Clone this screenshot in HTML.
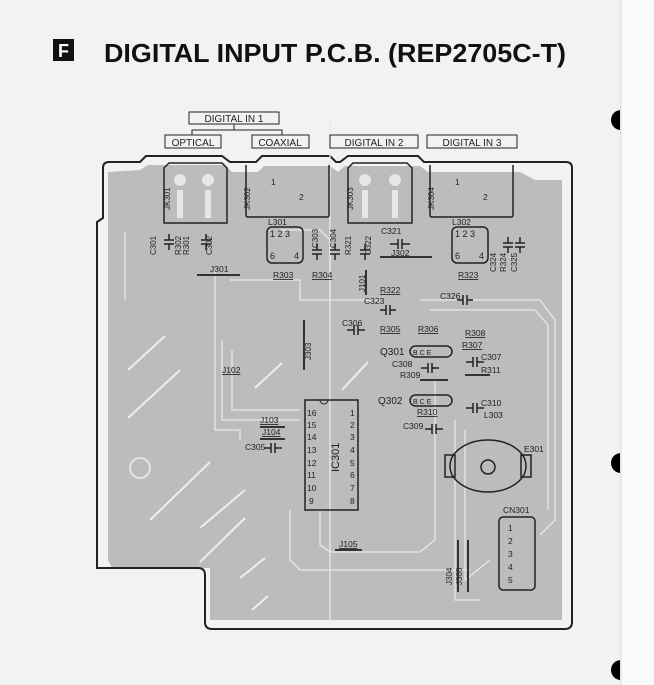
<!DOCTYPE html>
<html><head><meta charset="utf-8"><style>
html,body{margin:0;padding:0;background:#f4f4f2;}
svg{display:block;font-family:"Liberation Sans",Arial,sans-serif;}
</style></head><body>
<svg width="654" height="685" viewBox="0 0 654 685" xmlns="http://www.w3.org/2000/svg">
<rect x="0" y="0" width="654" height="685" fill="#f2f2f0"/>
<circle cx="621" cy="120" r="10" fill="#000"/>
<circle cx="621" cy="463" r="10" fill="#000"/>
<circle cx="621" cy="670" r="10" fill="#000"/>
<rect x="621" y="0" width="33" height="685" fill="#fafafa"/>
<rect x="620" y="0" width="1.5" height="685" fill="#e2e2e2"/>
<!-- title -->
<rect x="53" y="39" width="21" height="22" fill="#111"/>
<text x="63.5" y="57" font-size="18" font-weight="bold" fill="#fff" text-anchor="middle">F</text>
<text x="104" y="62" font-size="26" font-weight="bold" fill="#111" textLength="462" lengthAdjust="spacingAndGlyphs">DIGITAL INPUT P.C.B. (REP2705C-T)</text>
<!-- board fill -->
<path d="M108 172 L140 170 L148 165 L225 165 L232 172 L258 172 L264 166 L330 166 L338 172 L345 166 L420 166 L428 172 L520 172 L535 180 L562 180 L562 620 L210 620 L210 568 L112 568 L108 560 Z" fill="#bcbcbc"/>
<!-- board outline -->
<path d="M97 222 L103 218 L103 168 Q103 162 109 162 L140 162 L146 156 L222 156 L230 162 L256 162 L262 156 L330 156 L336 162 L340 162 L348 156 L418 156 L424 162 L566 162 Q572 162 572 168 L572 622 Q572 629 565 629 L212 629 Q205 629 205 622 L205 575 Q205 568 198 568 L97 568 Z" fill="none" stroke="#222" stroke-width="2"/>
<!-- traces (light lines) -->
<g fill="none" stroke="#e8e8e8" stroke-width="1.3">
<path d="M125 232 L125 300"/>
<path d="M215 270 L215 430 L240 430 L240 440"/>
<path d="M230 280 L300 280 L300 300 L380 300"/>
<path d="M222 340 L222 420 L300 420"/>
<path d="M232 350 L232 410 L300 410"/>
<path d="M320 510 L320 545 L330 552 L420 552 L435 540 L435 380"/>
<path d="M290 510 L290 560 L300 570 L470 570"/>
<path d="M420 300 L540 300 L555 320 L555 520 L540 535"/>
<path d="M430 310 L535 310 L548 325 L548 510"/>
<path d="M455 420 L455 600 L480 600"/>
<path d="M465 430 L465 580 L490 560"/>
<path d="M330 120 L330 620"/>
<path d="M280 230 L320 230 L330 240 L330 300"/>
</g>
<g stroke="#eee" stroke-width="2">
<line x1="128" y1="370" x2="165" y2="336"/><line x1="128" y1="418" x2="180" y2="370"/>
<line x1="255" y1="388" x2="282" y2="363"/><line x1="342" y1="390" x2="368" y2="362"/>
<line x1="150" y1="520" x2="210" y2="462"/><line x1="200" y1="528" x2="245" y2="490"/>
<line x1="200" y1="562" x2="245" y2="518"/><line x1="240" y1="578" x2="265" y2="558"/>
<line x1="252" y1="610" x2="268" y2="596"/>
</g>
<circle cx="140" cy="468" r="10" fill="none" stroke="#eee" stroke-width="1.5"/>
<!-- label boxes -->
<g font-size="10" fill="#222" stroke="#222" stroke-width="1">
<rect x="189" y="112" width="90" height="12" fill="#f2f2f0"/>
<rect x="165" y="135" width="56" height="13" fill="#f2f2f0"/>
<rect x="252" y="135" width="57" height="13" fill="#f2f2f0"/>
<rect x="330" y="135" width="88" height="13" fill="#f2f2f0"/>
<rect x="427" y="135" width="90" height="13" fill="#f2f2f0"/>
<path d="M192 135 L192 130 L282 130 L282 135 M234 124 L234 130" fill="none"/>
</g>
<g font-size="10" fill="#222">
<text x="234" y="122" text-anchor="middle">DIGITAL IN 1</text>
<text x="193" y="146" text-anchor="middle">OPTICAL</text>
<text x="280" y="146" text-anchor="middle">COAXIAL</text>
<text x="374" y="146" text-anchor="middle">DIGITAL IN 2</text>
<text x="472" y="146" text-anchor="middle">DIGITAL IN 3</text>
</g>
<!-- jacks -->
<g fill="none" stroke="#222" stroke-width="1.5">
<path d="M164 168 L169 163 L222 163 L227 168 L227 223 L164 223 Z"/>
<path d="M348 168 L353 163 L407 163 L412 168 L412 223 L348 223 Z"/>
<path d="M246 165 L246 215 Q246 217 248 217 L327 217 Q329 217 329 215 L329 165"/>
<path d="M430 165 L430 215 Q430 217 432 217 L511 217 Q513 217 513 215 L513 165"/>
<rect x="267" y="227" width="36" height="36" rx="5"/>
<rect x="452" y="227" width="36" height="36" rx="5"/>
<rect x="305" y="400" width="53" height="110"/>
<ellipse cx="488" cy="466" rx="38" ry="26"/>
<rect x="445" y="455" width="10" height="22"/>
<rect x="521" y="455" width="10" height="22"/>
<circle cx="488" cy="467" r="7"/>
<rect x="499" y="517" width="36" height="73" rx="4"/>
<rect x="410" y="346" width="42" height="11" rx="5.5"/>
<rect x="410" y="395" width="42" height="11" rx="5.5"/>
</g>
<g fill="#e6e6e6">
<circle cx="180" cy="180" r="6"/><circle cx="208" cy="180" r="6"/>
<circle cx="365" cy="180" r="6"/><circle cx="395" cy="180" r="6"/>
<rect x="177" y="190" width="6" height="28"/><rect x="205" y="190" width="6" height="28"/>
<rect x="362" y="190" width="6" height="28"/><rect x="392" y="190" width="6" height="28"/>
</g>
<path d="M320 400 a4 4 0 0 0 8 0" fill="none" stroke="#222"/>
<!-- text labels -->
<g font-size="8.5" fill="#222">
<text x="271" y="185">1</text><text x="299" y="200">2</text>
<text x="455" y="185">1</text><text x="483" y="200">2</text>
<text x="270" y="237" font-size="9">1 2 3</text><text x="270" y="259" font-size="9">6</text><text x="294" y="259" font-size="9">4</text>
<text x="455" y="237" font-size="9">1 2 3</text><text x="455" y="259" font-size="9">6</text><text x="479" y="259" font-size="9">4</text>
<text x="268" y="225">L301</text><text x="452" y="225">L302</text>
<text x="210" y="272">J301</text><text x="391" y="256">J302</text>
<text x="273" y="278" text-decoration="underline">R303</text><text x="312" y="278" text-decoration="underline">R304</text>
<text x="458" y="278" text-decoration="underline">R323</text>
<text x="380" y="293" text-decoration="underline">R322</text>
<text x="364" y="304">C323</text><text x="440" y="299">C326</text>
<text x="342" y="326">C306</text>
<text x="380" y="332" text-decoration="underline">R305</text><text x="418" y="332" text-decoration="underline">R306</text>
<text x="465" y="336" text-decoration="underline">R308</text><text x="462" y="348" text-decoration="underline">R307</text>
<text x="380" y="355" font-size="10">Q301</text><text x="378" y="404" font-size="10">Q302</text>
<text x="413" y="355" font-size="7">B C E</text><text x="413" y="404" font-size="7">B C E</text>
<text x="392" y="367">C308</text><text x="400" y="378">R309</text>
<text x="481" y="360">C307</text><text x="481" y="373">R311</text>
<text x="481" y="406">C310</text><text x="484" y="418">L303</text>
<text x="417" y="415" text-decoration="underline">R310</text>
<text x="403" y="429">C309</text>
<text x="222" y="373" text-decoration="underline">J102</text>
<text x="260" y="423" text-decoration="underline">J103</text><text x="262" y="435" text-decoration="underline">J104</text>
<text x="245" y="450">C305</text>
<text x="339" y="547" text-decoration="underline">J105</text>
<text x="524" y="452">E301</text><text x="503" y="513">CN301</text>
<text x="381" y="234">C321</text>
</g>
<g font-size="8.5" fill="#222">
<text x="307" y="416">16</text><text x="307" y="428">15</text><text x="307" y="440">14</text><text x="307" y="453">13</text>
<text x="307" y="466">12</text><text x="307" y="478">11</text><text x="307" y="491">10</text><text x="309" y="504">9</text>
<text x="350" y="416">1</text><text x="350" y="428">2</text><text x="350" y="440">3</text><text x="350" y="453">4</text>
<text x="350" y="466">5</text><text x="350" y="478">6</text><text x="350" y="491">7</text><text x="350" y="504">8</text>
<text x="508" y="531">1</text><text x="508" y="544">2</text><text x="508" y="557">3</text><text x="508" y="570">4</text><text x="508" y="583">5</text>
<text font-size="11" transform="translate(339 472) rotate(-90)">IC301</text>
</g>
<g font-size="8" fill="#222">
<text transform="translate(170 210) rotate(-90)">JK301</text>
<text transform="translate(250 210) rotate(-90)">JK302</text>
<text transform="translate(353 210) rotate(-90)">JK303</text>
<text transform="translate(434 210) rotate(-90)">JK304</text>
<text transform="translate(156 255) rotate(-90)">C301</text>
<text transform="translate(181 255) rotate(-90)">R302</text>
<text transform="translate(189 255) rotate(-90)">R301</text>
<text transform="translate(212 255) rotate(-90)">C302</text>
<text transform="translate(318 248) rotate(-90)">C303</text>
<text transform="translate(336 248) rotate(-90)">C304</text>
<text transform="translate(351 255) rotate(-90)">R321</text>
<text transform="translate(371 255) rotate(-90)">C322</text>
<text transform="translate(496 272) rotate(-90)">C324</text>
<text transform="translate(506 272) rotate(-90)">R324</text>
<text transform="translate(517 272) rotate(-90)">C325</text>
<text transform="translate(365 292) rotate(-90)">J101</text>
<text transform="translate(311 360) rotate(-90)">J303</text>
<text transform="translate(452 585) rotate(-90)">J304</text>
<text transform="translate(462 585) rotate(-90)">J305</text>
</g>
<!-- jumpers and caps -->
<g stroke="#333" stroke-width="2" fill="none">
<line x1="197" y1="275" x2="240" y2="275"/>
<line x1="380" y1="257" x2="432" y2="257"/>
<line x1="304" y1="320" x2="304" y2="370"/>
<line x1="366" y1="270" x2="366" y2="295"/>
<line x1="458" y1="540" x2="458" y2="592"/>
<line x1="468" y1="540" x2="468" y2="592"/>
<line x1="335" y1="550" x2="362" y2="550"/>
<line x1="420" y1="380" x2="448" y2="380"/>
<line x1="465" y1="375" x2="490" y2="375"/>
<line x1="260" y1="427" x2="285" y2="427"/>
<line x1="260" y1="439" x2="285" y2="439"/>
</g>
<g stroke="#222" stroke-width="1.5" fill="none">
<path d="M164 240 h10 M164 244 h10 M169 234 v6 M169 244 v6"/>
<path d="M201 240 h10 M201 244 h10 M206 234 v6 M206 244 v6"/>
<path d="M312 250 h10 M312 254 h10 M317 244 v6 M317 254 v6"/>
<path d="M330 250 h10 M330 254 h10 M335 244 v6 M335 254 v6"/>
<path d="M360 250 h10 M360 254 h10 M365 244 v6 M365 254 v6"/>
<path d="M398 239 v10 M402 239 v10 M390 244 h8 M402 244 h8"/>
<path d="M503 243 h10 M503 247 h10 M508 237 v6 M508 247 v6"/>
<path d="M515 243 h10 M515 247 h10 M520 237 v6 M520 247 v6"/>
<path d="M386 305 v10 M390 305 v10 M380 310 h6 M390 310 h6"/>
<path d="M463 295 v10 M467 295 v10 M457 300 h6 M467 300 h6"/>
<path d="M354 325 v10 M358 325 v10 M347 330 h7 M358 330 h7"/>
<path d="M428 363 v10 M432 363 v10 M421 368 h7 M432 368 h7"/>
<path d="M473 357 v10 M477 357 v10 M466 362 h7 M477 362 h7"/>
<path d="M473 403 v10 M477 403 v10 M466 408 h7 M477 408 h7"/>
<path d="M432 424 v10 M436 424 v10 M425 429 h7 M436 429 h7"/>
<path d="M271 443 v10 M275 443 v10 M264 448 h7 M275 448 h7"/>
</g>
</svg>
</body></html>
